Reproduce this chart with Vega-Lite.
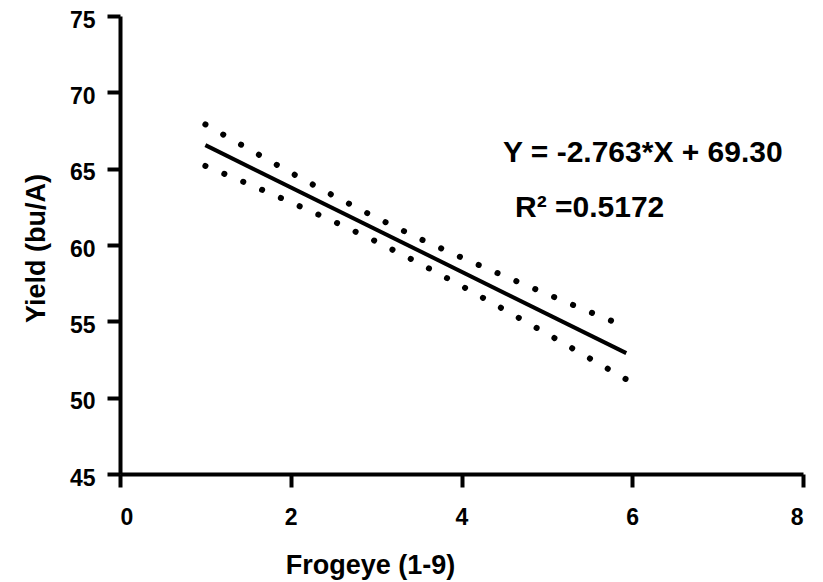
{
  "$schema": "https://vega.github.io/schema/vega-lite/v6.json",
  "autosize": "none",
  "width": 683,
  "height": 458,
  "padding": {"left": 120, "top": 16, "right": 20, "bottom": 108},
  "background": "white",
  "config": {
    "view": {"stroke": null},
    "font": "Liberation Sans",
    "axis": {
      "grid": false,
      "domainColor": "black",
      "domainWidth": 4,
      "tickColor": "black",
      "tickWidth": 4,
      "tickSize": 13,
      "labelFont": "Liberation Sans",
      "labelFontSize": 23,
      "labelFontWeight": "bold",
      "labelColor": "black",
      "titleFont": "Liberation Sans",
      "titleFontSize": 27,
      "titleFontWeight": "bold",
      "titleColor": "black"
    }
  },
  "datasets": {
    "curves": [
      {"x": 1, "y": 66.54, "series": "fit"},
      {"x": 5.93, "y": 52.92, "series": "fit"},
      {"x": 1, "y": 67.90, "series": "upper"},
      {"x": 1.5, "y": 66.31, "series": "upper"},
      {"x": 2, "y": 64.74, "series": "upper"},
      {"x": 2.5, "y": 63.23, "series": "upper"},
      {"x": 3, "y": 61.79, "series": "upper"},
      {"x": 3.5, "y": 60.44, "series": "upper"},
      {"x": 4, "y": 59.18, "series": "upper"},
      {"x": 4.5, "y": 57.97, "series": "upper"},
      {"x": 5, "y": 56.79, "series": "upper"},
      {"x": 5.5, "y": 55.62, "series": "upper"},
      {"x": 5.93, "y": 54.64, "series": "upper"},
      {"x": 1, "y": 65.18, "series": "lower"},
      {"x": 1.5, "y": 64.01, "series": "lower"},
      {"x": 2, "y": 62.80, "series": "lower"},
      {"x": 2.5, "y": 61.55, "series": "lower"},
      {"x": 3, "y": 60.23, "series": "lower"},
      {"x": 3.5, "y": 58.82, "series": "lower"},
      {"x": 4, "y": 57.32, "series": "lower"},
      {"x": 4.5, "y": 55.77, "series": "lower"},
      {"x": 5, "y": 54.19, "series": "lower"},
      {"x": 5.5, "y": 52.58, "series": "lower"},
      {"x": 5.93, "y": 51.20, "series": "lower"}
    ],
    "notes": [
      {"x": 4.486, "y": 65.44, "label": "Y = -2.763*X + 69.30"},
      {"x": 4.627, "y": 61.83, "label": "R² =0.5172"}
    ]
  },
  "encoding": {
    "x": {
      "field": "x",
      "type": "quantitative",
      "scale": {"domain": [0, 8], "nice": false, "zero": false},
      "axis": {
        "values": [0, 2, 4, 6, 8],
        "title": "Frogeye (1-9)",
        "labelPadding": 19,
        "titleX": 250,
        "titleY": 99,
        "titleBaseline": "alphabetic",
        "titleAnchor": "middle"
      }
    },
    "y": {
      "field": "y",
      "type": "quantitative",
      "scale": {"domain": [45, 75], "nice": false, "zero": false},
      "axis": {
        "values": [45, 50, 55, 60, 65, 70, 75],
        "title": "Yield (bu/A)",
        "labelPadding": 12,
        "labelOffset": 4,
        "titleX": -76,
        "titleY": 232,
        "titleBaseline": "alphabetic",
        "titleAngle": -90
      }
    }
  },
  "layer": [
    {
      "data": {"name": "curves"},
      "transform": [{"filter": "datum.series == 'upper'"}],
      "mark": {"type": "line", "color": "black", "strokeWidth": 6, "strokeCap": "round", "strokeDash": [0.1, 20.4]}
    },
    {
      "data": {"name": "curves"},
      "transform": [{"filter": "datum.series == 'lower'"}],
      "mark": {"type": "line", "color": "black", "strokeWidth": 6, "strokeCap": "round", "strokeDash": [0.1, 20.4]}
    },
    {
      "data": {"name": "curves"},
      "transform": [{"filter": "datum.series == 'fit'"}],
      "mark": {"type": "line", "color": "black", "strokeWidth": 4}
    },
    {
      "data": {"name": "notes"},
      "mark": {"type": "text", "align": "left", "baseline": "alphabetic", "font": "Liberation Sans", "fontSize": 30, "fontWeight": "bold", "color": "black"},
      "encoding": {"text": {"field": "label", "type": "nominal"}}
    }
  ]
}
